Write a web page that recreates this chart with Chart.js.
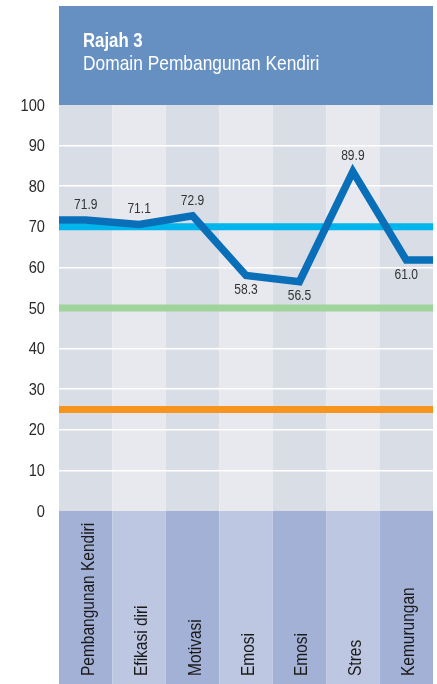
<!DOCTYPE html>
<html>
<head>
<meta charset="utf-8">
<script src="https://cdn.jsdelivr.net/npm/chart.js@4/dist/chart.umd.min.js"></script>
<style>
    html, body { margin: 0; padding: 0; background: #fff; }
    #wrap { width: 437px; height: 684px; position: relative; }
</style>
</head>
<body>
<div id="wrap"><canvas id="chart" width="437" height="684"></canvas></div>
<script>
const categories = ['Pembangunan Kendiri', 'Efikasi diri', 'Motivasi', 'Emosi', 'Emosi', 'Stres', 'Kemurungan'];
// where the line is drawn
const values = [71.7, 70.6, 72.7, 58.0, 56.5, 83.6, 61.8];
// numbers printed beside the line
const valueLabels = ['71.9', '71.1', '72.9', '58.3', '56.5', '89.9', '61.0'];
const labelBelow = [false, false, false, true, true, false, true];
const refLines = [70, 50, 25];
const refColors = ['#00b4ec', '#9fd49b', '#f7941e'];
const yTicks = [0, 10, 20, 30, 40, 50, 60, 70, 80, 90, 100];
const title = 'Rajah 3';
const subtitle = 'Domain Pembangunan Kendiri';

const FONT = '"Liberation Sans", Arial, sans-serif';
const SQUEEZE = 0.86; // the original uses a condensed face
const first = -0.5, last = categories.length - 0.5;

// draws text squeezed horizontally around its anchor
function narrowText(ctx, text, x, y, align) {
    const w = ctx.measureText(text).width * SQUEEZE;
    let left = x;
    if (align === 'center') left = x - w / 2;
    if (align === 'right') left = x - w;
    ctx.save();
    ctx.textAlign = 'left';
    ctx.translate(left, y);
    ctx.scale(SQUEEZE, 1);
    ctx.fillText(text, 0, 0);
    ctx.restore();
}

const datasets = refLines.map((v, i) => ({
    data: [{ x: first, y: v }, { x: last, y: v }],
    borderColor: refColors[i],
    borderWidth: 7,
    pointRadius: 0,
    order: 2
}));
datasets.push({
    data: [{ x: first, y: values[0] }]
        .concat(values.map((v, i) => ({ x: i, y: v })))
        .concat([{ x: last, y: values[values.length - 1] }]),
    borderColor: '#0a6fb9',
    borderWidth: 7.5,
    borderJoinStyle: 'miter',
    pointRadius: 0,
    order: 1
});

const decor = {
    id: 'decor',
    beforeDraw(chart) {
        const { ctx, chartArea: a, scales: { x, y } } = chart;
        ctx.save();
        // header block
        ctx.fillStyle = '#6690c2';
        ctx.fillRect(a.left, 6, a.right - a.left, a.top - 6);
        ctx.fillStyle = '#fff';
        ctx.textBaseline = 'alphabetic';
        ctx.font = 'bold 19.5px ' + FONT;
        narrowText(ctx, title, 83, 47, 'left');
        ctx.font = '20.2px ' + FONT;
        narrowText(ctx, subtitle, 83, 70, 'left');
        // column bands
        categories.forEach((c, i) => {
            const l = x.getPixelForValue(i - 0.5), r = x.getPixelForValue(i + 0.5);
            ctx.fillStyle = i % 2 ? '#e8e9ee' : '#d9dde6';
            ctx.fillRect(l, a.top, r - l, a.bottom - a.top);
            ctx.fillStyle = i % 2 ? '#bec7e1' : '#a4b1d7';
            ctx.fillRect(l, a.bottom, r - l, chart.height - a.bottom);
        });
        // y tick labels
        ctx.fillStyle = '#2a2a2a';
        ctx.font = '17px ' + FONT;
        ctx.textBaseline = 'middle';
        yTicks.forEach(v => narrowText(ctx, String(v), 45, y.getPixelForValue(v) + 1, 'right'));
        ctx.restore();
    },
    afterDatasetsDraw(chart) {
        const { ctx, scales: { x, y } } = chart;
        ctx.save();
        ctx.fillStyle = '#333';
        ctx.font = '14px ' + FONT;
        values.forEach((v, i) => {
            const px = x.getPixelForValue(i), py = y.getPixelForValue(v);
            ctx.textBaseline = labelBelow[i] ? 'top' : 'bottom';
            narrowText(ctx, valueLabels[i], px, labelBelow[i] ? py + 8 : py - 8, 'center');
        });
        // category labels, rotated, reading upward from the bottom
        ctx.fillStyle = '#1a1a1a';
        ctx.font = '18px ' + FONT;
        ctx.textBaseline = 'middle';
        categories.forEach((c, i) => {
            ctx.save();
            ctx.translate(x.getPixelForValue(i) + 3, chart.height - 8);
            ctx.rotate(-Math.PI / 2);
            narrowText(ctx, c, 0, 0, 'left');
            ctx.restore();
        });
        ctx.restore();
    }
};

new Chart(document.getElementById('chart'), {
    type: 'line',
    data: { datasets },
    options: {
        responsive: false,
        animation: false,
        layout: { padding: { top: 105, right: 4, bottom: 173, left: 0 } },
        plugins: { legend: { display: false }, tooltip: { enabled: false } },
        scales: {
            x: { type: 'linear', min: first, max: last, display: false },
            y: {
                min: 0, max: 100,
                afterFit(s) { s.width = 59; },
                afterBuildTicks(s) { s.ticks = yTicks.map(v => ({ value: v })); },
                border: { display: false },
                grid: {
                    drawTicks: false,
                    lineWidth: 1.5,
                    color: c => (c.tick.value === 0 || c.tick.value === 100) ? 'rgba(0,0,0,0)' : '#ffffff'
                },
                ticks: { display: false }
            }
        }
    },
    plugins: [decor]
});
</script>
</body>
</html>
